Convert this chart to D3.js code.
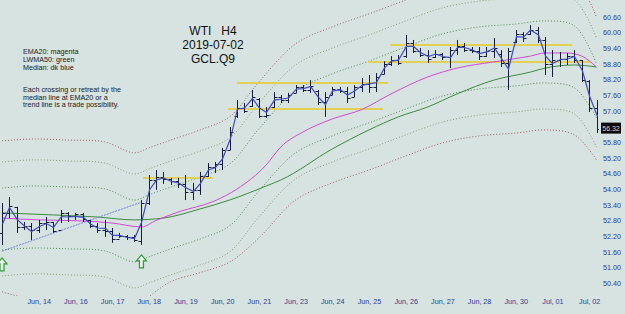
<!DOCTYPE html>
<html>
<head>
<meta charset="utf-8">
<script src="https://cdn.jsdelivr.net/npm/d3@7"></script>
<style>
    body { margin: 0; background: #d7e3e1; }
    svg { display: block; font-family: 'Liberation Sans', Arial, sans-serif; }
    .axis text { fill: #2c3b92; font-size: 7.2px; }
    .axis path, .axis line { display: none; }
</style>
</head>
<body>
<svg id="chart" width="625" height="314"></svg>
<script>
// H4 bars
const barHigh = [53.47, 53.70, 53.32, 52.74, 52.70, 52.82, 52.93, 52.74, 53.20, 53.12, 53.09, 53.09, 52.82, 52.70, 52.82, 52.51, 52.32, 52.24, 52.24, 53.58,
    54.54, 54.73, 54.66, 54.43, 54.43, 54.54, 54.24, 54.66, 55.00, 55.04, 55.58, 56.38, 57.42, 57.30, 57.80, 57.49, 57.15, 57.72, 57.61, 57.69,
    57.99, 57.99, 58.18, 57.80, 57.72, 57.92, 57.92, 57.92, 57.99, 58.26, 58.38, 58.45, 58.90, 59.10, 59.14, 59.91, 59.72, 59.41, 59.33, 59.33,
    59.22, 59.45, 59.72, 59.60, 59.45, 59.45, 59.45, 59.79, 59.33, 59.41, 60.10, 60.02, 60.29, 60.22, 59.83, 59.33, 59.26, 59.22, 59.33, 58.95,
    58.18, 57.42];
const barLow = [51.86, 52.89, 52.32, 52.43, 52.05, 52.32, 52.43, 52.32, 52.70, 52.74, 52.82, 52.74, 52.51, 52.32, 52.17, 51.94, 52.13, 52.05, 51.97, 51.86,
    53.39, 53.97, 54.20, 54.16, 54.04, 53.58, 53.58, 53.78, 54.47, 54.62, 54.73, 55.50, 56.73, 56.92, 57.15, 56.73, 56.73, 57.11, 57.30, 57.30,
    57.69, 57.72, 57.69, 57.23, 56.77, 57.61, 57.69, 57.30, 57.53, 57.72, 57.69, 57.72, 58.40, 58.72, 58.76, 59.03, 59.22, 59.07, 58.84, 59.03,
    58.95, 58.64, 59.14, 59.26, 59.22, 58.95, 59.07, 59.03, 58.68, 57.80, 59.60, 59.64, 59.91, 59.60, 58.38, 58.30, 58.68, 58.76, 58.84, 58.11,
    56.96, 56.15];
const barOpen = [52.30, 53.10, 53.30, 52.55, 52.60, 52.45, 52.70, 52.72, 52.45, 53.10, 52.95, 53.05, 52.80, 52.60, 52.45, 52.40, 52.10, 52.20, 52.15, 52.00,
    53.45, 54.35, 54.45, 54.40, 54.30, 54.20, 53.90, 53.95, 54.50, 54.85, 54.95, 55.50, 56.80, 57.10, 57.20, 57.45, 56.80, 57.15, 57.55, 57.40,
    57.70, 57.90, 57.80, 57.75, 57.35, 57.62, 57.85, 57.75, 57.55, 57.90, 58.05, 57.90, 58.40, 58.80, 58.95, 59.10, 59.60, 59.30, 59.15, 59.05,
    59.20, 59.05, 59.35, 59.50, 59.35, 59.30, 59.10, 59.30, 59.20, 58.85, 59.65, 59.95, 59.95, 60.10, 59.70, 58.80, 58.95, 59.00, 59.10, 58.95,
    58.15, 57.10];
const barClose = [53.10, 53.35, 52.55, 52.60, 52.45, 52.70, 52.75, 52.40, 53.10, 52.95, 53.05, 52.85, 52.60, 52.45, 52.40, 52.10, 52.20, 52.15, 52.05, 53.45,
    54.35, 54.45, 54.40, 54.30, 54.20, 53.90, 53.95, 54.50, 54.85, 54.95, 55.50, 56.20, 57.10, 57.00, 57.55, 56.80, 56.85, 57.55, 57.40, 57.60,
    57.90, 57.80, 57.95, 57.35, 57.55, 57.85, 57.75, 57.50, 57.90, 58.05, 57.90, 58.30, 58.80, 58.95, 58.85, 59.60, 59.30, 59.15, 59.00, 59.20,
    59.05, 59.35, 59.50, 59.35, 59.30, 59.10, 59.30, 59.40, 58.85, 59.30, 59.95, 59.80, 60.10, 59.70, 58.80, 58.95, 59.00, 59.10, 58.95, 58.20,
    57.10, 56.32];

// moving averages, [bar index, price]
const ema20 = [[0, 52.89], [5, 52.82], [11, 52.78], [15, 52.70], [19, 52.55], [21, 52.80], [24, 53.12], [29, 53.55], [32, 54.00], [36, 54.93],
    [38, 55.62], [41, 56.19], [45, 56.69], [49, 57.05], [53, 57.65], [58, 58.30], [62, 58.64], [67, 58.88], [72, 59.10], [74, 59.22],
    [77, 59.22], [79, 59.10], [81, 58.68]];
const lwma50 = [[0, 53.09], [7, 53.01], [13, 52.93], [18, 52.82], [22, 52.89], [27, 53.24], [31, 53.58], [36, 54.12], [38, 54.35], [45, 55.54],
    [50, 56.27], [54, 56.77], [58, 57.15], [62, 57.65], [67, 58.18], [72, 58.49], [74, 58.64], [78, 58.76], [81, 58.68]];

// envelope lines
const bandIdx = [0, 4, 9, 14, 18, 20, 23, 27, 31, 35, 40, 45, 50, 55, 60, 65, 70, 74, 78, 81];
const bandUp3 = [55.85, 55.92, 55.88, 55.81, 55.39, 55.58, 55.88, 56.27, 56.77, 58.11, 59.57, 60.22, 60.72, 61.25, 61.75, 62.02, 62.13, 62.25, 62.06, 60.60];
const bandUp2 = [55.04, 55.12, 55.08, 55.00, 54.58, 54.77, 55.08, 55.46, 55.96, 57.30, 58.76, 59.41, 59.91, 60.45, 60.95, 61.21, 61.33, 61.44, 61.25, 59.80];
const bandUp1 = [54.04, 54.12, 54.08, 54.01, 53.58, 53.78, 54.08, 54.47, 54.96, 56.31, 57.76, 58.42, 58.91, 59.45, 59.95, 60.22, 60.33, 60.45, 60.26, 58.80];
const bandDn1 = [51.67, 51.74, 51.71, 51.63, 51.21, 51.40, 51.71, 52.09, 52.59, 53.93, 55.39, 56.04, 56.54, 57.07, 57.57, 57.84, 57.96, 58.07, 57.88, 56.73];
const bandDn2 = [50.67, 50.75, 50.71, 50.63, 50.21, 50.40, 50.71, 51.09, 51.59, 52.93, 54.39, 55.04, 55.54, 56.08, 56.57, 56.84, 56.96, 57.07, 56.88, 55.61];
const bandDn3 = [50.06, 49.80, 49.78, 49.75, 49.40, 49.87, 50.45, 50.80, 51.20, 52.13, 53.58, 54.24, 54.73, 55.27, 55.77, 56.04, 56.15, 56.27, 56.08, 55.12];

// yellow levels: [from bar, to bar, price]
const levels = [[19.2, 28.7, 54.43], [30.8, 51.9, 57.07], [32, 52.6, 58.07], [49.9, 80.1, 58.87], [52.9, 77.7, 59.53]];
// trend line and buy arrows
const trendLine = [[0, 51.62], [19, 53.50]];
const buyArrows = [[0, 51.13], [19, 51.25]];

const yTicks = [50.4, 51.0, 51.6, 52.2, 52.8, 53.4, 54.0, 54.6, 55.2, 55.8, 57.0, 57.6, 58.2, 58.8, 59.4, 60.0, 60.6];
const dayIdx = [5, 10, 15, 20, 25, 30, 35, 40, 45, 50, 55, 60, 65, 70, 75, 80];
const dayLabels = ['Jun, 14', 'Jun, 16', 'Jun, 17', 'Jun, 18', 'Jun, 19', 'Jun, 20', 'Jun, 21', 'Jun, 23',
    'Jun, 24', 'Jun, 25', 'Jun, 26', 'Jun, 27', 'Jun, 28', 'Jun, 30', 'Jul, 01', 'Jul, 02'];
const lastPrice = 56.32;

const svg = d3.select('#chart');
const plotW = 599;
const plotH = 296;

const x = d3.scaleLinear().domain([0, barHigh.length - 1]).range([2, 596.5]);
const y = d3.scaleLinear().domain([50.4, 60.6]).range([283, 17]);

svg.append('rect').attr('width', 625).attr('height', 314).attr('fill', '#d7e3e1');

svg.append('clipPath').attr('id', 'plot-clip')
    .append('rect').attr('width', plotW).attr('height', plotH);

const g = svg.append('g').attr('clip-path', 'url(#plot-clip)');

// bands
const bandLine = d3.line()
    .x((d, i) => x(bandIdx[i]))
    .y((d) => y(d))
    .curve(d3.curveCatmullRom);

const bands = [
    [bandUp3, '#a0585a'], [bandUp2, '#8c9870'], [bandUp1, '#4f8a4f'],
    [bandDn1, '#4f8a4f'], [bandDn2, '#8c9870'], [bandDn3, '#a0585a']
];
bands.forEach(([vals, col]) => {
    g.append('path')
        .attr('d', bandLine(vals))
        .attr('fill', 'none')
        .attr('stroke', col)
        .attr('stroke-width', 1)
        .attr('stroke-dasharray', '1,2');
});

// yellow levels
g.selectAll('.level')
    .data(levels)
    .enter()
    .append('line')
    .attr('class', 'level')
    .attr('x1', (d) => x(d[0]))
    .attr('x2', (d) => x(d[1]))
    .attr('y1', (d) => y(d[2]))
    .attr('y2', (d) => y(d[2]))
    .attr('stroke', '#e2d052')
    .attr('stroke-width', 2);

// moving averages
const maLine = d3.line()
    .x((d) => x(d[0]))
    .y((d) => y(d[1]))
    .curve(d3.curveMonotoneX);

g.append('path').attr('d', maLine(lwma50))
    .attr('fill', 'none').attr('stroke', '#3b8a3e').attr('stroke-width', 1);
g.append('path').attr('d', maLine(ema20))
    .attr('fill', 'none').attr('stroke', '#d24ad2').attr('stroke-width', 1);

// trend line
g.append('path').attr('d', d3.line().x((d) => x(d[0])).y((d) => y(d[1]))(trendLine))
    .attr('fill', 'none').attr('stroke', '#6a80dc').attr('stroke-width', 1)
    .attr('stroke-dasharray', '2,1');

// OHLC bars
const bars = barHigh.map((h, i) => ({ i, h, l: barLow[i], o: barOpen[i], c: barClose[i] }));

const barG = g.append('g').attr('stroke', '#161a3c').attr('stroke-width', 1);
bars.forEach((d) => {
    const cx = Math.round(x(d.i)) + 0.5;
    barG.append('line').attr('x1', cx).attr('x2', cx).attr('y1', y(d.h)).attr('y2', y(d.l));
    barG.append('line').attr('x1', cx - 3).attr('x2', cx).attr('y1', Math.round(y(d.o)) + 0.5).attr('y2', Math.round(y(d.o)) + 0.5);
    barG.append('line').attr('x1', cx).attr('x2', cx + 3).attr('y1', Math.round(y(d.c)) + 0.5).attr('y2', Math.round(y(d.c)) + 0.5);
});

// median line
const medLine = d3.line()
    .x((d) => Math.round(x(d.i)) + 0.5)
    .y((d) => y((d.h + d.l) / 2));

g.append('path').attr('d', medLine(bars))
    .attr('fill', 'none').attr('stroke', '#3e4cc0').attr('stroke-width', 1.2);

// buy arrows
const arrowPath = 'M0,0 L5,6 L2,6 L2,13 L-2,13 L-2,6 L-5,6 Z';
g.selectAll('.arrow')
    .data(buyArrows)
    .enter()
    .append('path')
    .attr('class', 'arrow')
    .attr('transform', (d) => `translate(${x(d[0])},${y(d[1]) - 6})`)
    .attr('d', arrowPath)
    .attr('fill', '#e8f2e8')
    .attr('stroke', '#2f9a3a')
    .attr('stroke-width', 1.2);

// axes
const axisY = d3.axisRight(y)
    .tickValues(yTicks)
    .tickFormat(d3.format('.2f'))
    .tickSize(0)
    .tickPadding(0);

svg.append('g').attr('class', 'axis axis-y')
    .attr('transform', 'translate(603,0)')
    .call(axisY);

const axisX = d3.axisBottom(x)
    .tickValues(dayIdx)
    .tickFormat((d, i) => dayLabels[i])
    .tickSize(0)
    .tickPadding(0);

svg.append('g').attr('class', 'axis axis-x')
    .attr('transform', 'translate(0,299)')
    .call(axisX);

// last price tag
const tag = svg.append('g').attr('transform', `translate(601,${y(lastPrice)})`);
tag.append('rect').attr('x', 0).attr('y', -6).attr('width', 20).attr('height', 11).attr('fill', '#0c0c0c');
tag.append('text').attr('x', 10).attr('y', 2.5).attr('text-anchor', 'middle')
    .attr('font-size', 7).attr('fill', '#f4c8c8').text(d3.format('.2f')(lastPrice));

// title
const title = svg.append('g').attr('text-anchor', 'middle').attr('font-size', 12).attr('fill', '#111');
title.append('text').attr('x', 213).attr('y', 35).attr('xml:space', 'preserve').text('WTI   H4');
title.append('text').attr('x', 213).attr('y', 49).text('2019-07-02');
title.append('text').attr('x', 213).attr('y', 63).text('GCL.Q9');

// notes
const notes = svg.append('g').attr('font-size', 7.2).attr('fill', '#1a1a1a');
['EMA20: magenta', 'LWMA50: green', 'Median: dk blue'].forEach((t, i) => {
    notes.append('text').attr('x', 23).attr('y', 54 + i * 8).text(t);
});
['Each crossing or retreat by the', 'median line at EMA20 or a', 'trend line is a trade possibility.'].forEach((t, i) => {
    notes.append('text').attr('x', 23).attr('y', 92 + i * 7.6).text(t);
});
</script>
</body>
</html>
